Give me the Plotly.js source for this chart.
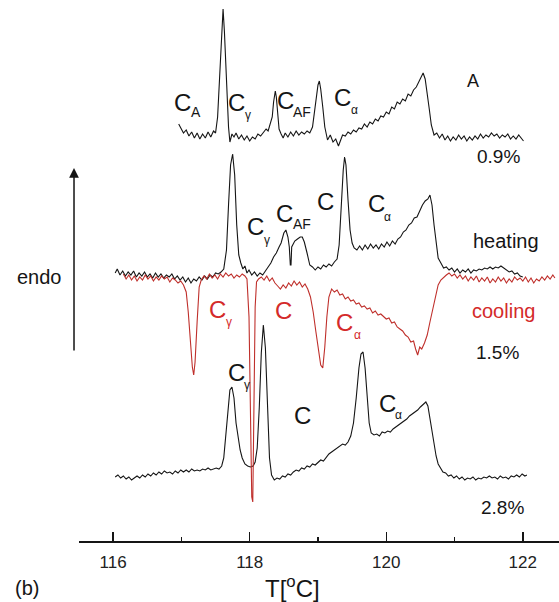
<!DOCTYPE html>
<html>
<head>
<meta charset="utf-8">
<script src="https://cdn.plot.ly/plotly-3.0.1.min.js"></script>
<style>html,body{margin:0;padding:0;background:#fff;}#chart{width:559px;height:602px;}</style>
</head>
<body>
<div id="chart"></div>
<script>
// DSC traces: [temperature in °C, heat flow relative to baseline (a.u.)]
const curve09 = [[116.96,13],[116.99,9],[117.03,4],[117.07,7],[117.11,1],[117.15,5],[117.19,-1],[117.23,4],[117.27,-2],[117.31,3],[117.35,-1],[117.39,5],[117.43,0],[117.47,6],[117.50,4],[117.53,20],[117.56,60],[117.59,110],[117.61,128],[117.63,105],[117.66,50],[117.69,10],[117.71,-5],[117.74,3],[117.77,0],[117.80,4],[117.84,-2],[117.88,2],[117.92,-3],[117.96,1],[118.00,-4],[118.04,0],[118.08,-2],[118.12,3],[118.16,1],[118.20,5],[118.24,8],[118.27,6],[118.30,12],[118.33,20],[118.35,35],[118.375,46],[118.39,40],[118.41,20],[118.43,8],[118.46,3],[118.49,-1],[118.52,4],[118.56,0],[118.60,5],[118.64,1],[118.68,6],[118.72,2],[118.76,5],[118.80,3],[118.84,6],[118.88,4],[118.92,10],[118.95,25],[118.98,45],[119.00,52],[119.02,56],[119.04,48],[119.07,30],[119.10,10],[119.14,-3],[119.18,2],[119.22,-5],[119.26,-2],[119.30,-9],[119.33,-3],[119.36,2],[119.40,1],[119.44,5],[119.48,3],[119.52,7],[119.56,5],[119.60,9],[119.64,8],[119.68,13],[119.72,10],[119.76,15],[119.80,13],[119.84,18],[119.88,16],[119.92,21],[119.96,20],[120.00,25],[120.04,23],[120.08,30],[120.12,28],[120.16,35],[120.20,33],[120.24,38],[120.28,36],[120.32,43],[120.36,41],[120.40,47],[120.44,50],[120.48,55],[120.51,60],[120.54,64],[120.57,58],[120.60,45],[120.63,28],[120.66,12],[120.70,2],[120.74,4],[120.78,-1],[120.82,3],[120.86,-3],[120.90,1],[120.94,-4],[120.98,0],[121.02,-3],[121.06,2],[121.10,-2],[121.14,1],[121.18,-4],[121.22,0],[121.26,-3],[121.30,1],[121.34,-2],[121.38,3],[121.42,-1],[121.46,2],[121.50,0],[121.54,4],[121.58,1],[121.62,3],[121.66,-1],[121.70,2],[121.74,0],[121.78,3],[121.82,-2],[121.86,1],[121.90,-2],[121.94,2],[121.98,-1],[122.01,-4]];

const curve15heat = [[116.03,2],[116.06,6],[116.10,0],[116.14,4],[116.18,-1],[116.22,3],[116.26,0],[116.30,4],[116.34,-2],[116.38,2],[116.42,-1],[116.46,3],[116.50,-2],[116.54,1],[116.58,-3],[116.62,2],[116.66,-2],[116.70,1],[116.74,-3],[116.78,0],[116.82,-2],[116.86,1],[116.90,-4],[116.94,-1],[116.98,-5],[117.02,-2],[117.06,-7],[117.10,-3],[117.14,-8],[117.18,-4],[117.22,-6],[117.26,-2],[117.30,-5],[117.34,-1],[117.38,-4],[117.42,0],[117.46,-2],[117.50,2],[117.54,1],[117.58,3],[117.62,6],[117.66,25],[117.69,70],[117.72,110],[117.75,121],[117.78,100],[117.81,50],[117.84,20],[117.87,12],[117.90,6],[117.93,9],[117.96,2],[117.99,5],[118.03,0],[118.07,3],[118.11,-1],[118.15,2],[118.19,0],[118.23,4],[118.27,8],[118.31,12],[118.35,18],[118.39,22],[118.43,28],[118.46,32],[118.50,42],[118.53,45],[118.56,38],[118.58,28],[118.595,10],[118.605,10],[118.615,28],[118.63,30],[118.66,34],[118.70,36],[118.74,38],[118.77,38],[118.80,33],[118.84,22],[118.88,10],[118.92,8],[118.96,5],[119.00,8],[119.04,6],[119.08,10],[119.12,8],[119.16,11],[119.20,9],[119.24,13],[119.28,16],[119.31,30],[119.34,70],[119.37,105],[119.39,118],[119.41,110],[119.44,75],[119.47,45],[119.50,32],[119.53,27],[119.57,25],[119.61,29],[119.65,25],[119.69,30],[119.73,26],[119.77,31],[119.81,27],[119.85,30],[119.89,26],[119.93,31],[119.97,28],[120.01,33],[120.05,29],[120.09,34],[120.13,31],[120.17,36],[120.21,38],[120.25,43],[120.29,45],[120.33,50],[120.37,52],[120.41,57],[120.45,58],[120.49,64],[120.53,70],[120.57,74],[120.61,76],[120.64,80],[120.67,70],[120.70,50],[120.73,30],[120.76,17],[120.80,12],[120.84,7],[120.88,8],[120.92,5],[120.96,7],[121.00,3],[121.04,6],[121.08,2],[121.12,5],[121.16,3],[121.20,6],[121.24,2],[121.28,5],[121.32,4],[121.36,6],[121.40,5],[121.44,7],[121.48,6],[121.52,8],[121.56,6],[121.60,8],[121.64,7],[121.68,9],[121.72,7],[121.76,5],[121.80,3],[121.84,4],[121.88,1],[121.92,2],[121.96,-1],[122.00,-2]];

const curve15cool = [[116.15,3],[116.19,-2],[116.23,2],[116.27,-3],[116.31,1],[116.35,-4],[116.39,0],[116.43,-3],[116.47,2],[116.51,-2],[116.55,1],[116.59,-4],[116.63,0],[116.67,-3],[116.71,1],[116.75,-2],[116.79,0],[116.83,-5],[116.87,-1],[116.91,-3],[116.95,-6],[116.99,-4],[117.03,-8],[117.07,-15],[117.10,-35],[117.13,-65],[117.16,-90],[117.18,-98],[117.20,-85],[117.23,-45],[117.26,-10],[117.29,-3],[117.33,1],[117.37,-2],[117.41,3],[117.45,-1],[117.49,2],[117.53,-2],[117.57,3],[117.61,0],[117.65,4],[117.69,1],[117.73,3],[117.77,-1],[117.81,2],[117.85,0],[117.89,3],[117.93,1],[117.96,-2],[117.99,-40],[118.01,-150],[118.03,-220],[118.045,-225],[118.06,-150],[118.08,-30],[118.10,-5],[118.13,-2],[118.17,0],[118.21,-3],[118.25,1],[118.29,-4],[118.33,-1],[118.37,-6],[118.41,-9],[118.45,-12],[118.49,-8],[118.53,-11],[118.57,-6],[118.61,-9],[118.65,-4],[118.69,-8],[118.73,-5],[118.77,-10],[118.81,-7],[118.85,-12],[118.89,-20],[118.93,-35],[118.97,-55],[119.01,-75],[119.04,-88],[119.07,-91],[119.10,-70],[119.13,-40],[119.16,-20],[119.20,-12],[119.24,-15],[119.28,-13],[119.32,-18],[119.36,-17],[119.40,-22],[119.44,-20],[119.48,-24],[119.52,-23],[119.56,-27],[119.60,-26],[119.64,-30],[119.68,-29],[119.72,-32],[119.76,-31],[119.80,-36],[119.84,-34],[119.88,-38],[119.92,-37],[119.96,-40],[120.00,-42],[120.04,-41],[120.08,-46],[120.12,-45],[120.16,-50],[120.20,-52],[120.24,-54],[120.28,-58],[120.32,-60],[120.36,-65],[120.40,-64],[120.43,-72],[120.46,-78],[120.49,-70],[120.52,-72],[120.56,-66],[120.60,-58],[120.64,-45],[120.68,-32],[120.72,-18],[120.76,-8],[120.80,-3],[120.84,0],[120.88,2],[120.92,4],[120.96,1],[121.00,3],[121.04,-1],[121.08,2],[121.12,-2],[121.16,1],[121.20,-4],[121.24,0],[121.28,-3],[121.32,1],[121.36,-5],[121.40,-1],[121.44,-4],[121.48,0],[121.52,-6],[121.56,-2],[121.60,-5],[121.64,0],[121.68,-4],[121.72,-1],[121.76,-6],[121.80,-2],[121.84,-5],[121.88,0],[121.92,-3],[121.96,-1],[122.00,-4],[122.04,0],[122.08,-5],[122.12,-1],[122.16,-6],[122.20,-2],[122.24,-4],[122.28,0],[122.32,-3],[122.36,1],[122.40,-2],[122.44,2],[122.47,-1]];

const curve28 = [[116.03,1],[116.07,3],[116.11,0],[116.15,2],[116.19,-1],[116.23,1],[116.27,-2],[116.31,0],[116.35,2],[116.39,0],[116.43,3],[116.47,1],[116.51,4],[116.55,2],[116.59,5],[116.63,3],[116.67,6],[116.71,4],[116.75,7],[116.79,5],[116.83,6],[116.87,4],[116.91,7],[116.95,5],[116.99,8],[117.03,6],[117.07,8],[117.11,6],[117.15,9],[117.19,7],[117.23,8],[117.27,7],[117.31,9],[117.35,8],[117.39,10],[117.43,8],[117.47,9],[117.51,10],[117.55,9],[117.59,12],[117.62,20],[117.65,45],[117.68,72],[117.71,88],[117.74,91],[117.77,80],[117.80,55],[117.83,40],[117.86,28],[117.89,20],[117.93,14],[117.97,12],[118.01,11],[118.05,12],[118.08,16],[118.11,30],[118.14,70],[118.17,125],[118.20,153],[118.23,130],[118.26,70],[118.29,20],[118.32,3],[118.36,-2],[118.40,0],[118.44,-1],[118.48,2],[118.52,1],[118.56,4],[118.60,3],[118.64,6],[118.68,8],[118.72,7],[118.76,10],[118.80,9],[118.84,12],[118.88,11],[118.92,14],[118.96,13],[119.00,16],[119.04,18],[119.08,17],[119.12,21],[119.16,24],[119.20,26],[119.24,28],[119.28,30],[119.32,32],[119.36,34],[119.40,33],[119.44,36],[119.48,42],[119.52,55],[119.56,80],[119.60,110],[119.63,124],[119.66,126],[119.69,110],[119.72,78],[119.75,55],[119.78,45],[119.82,43],[119.86,44],[119.90,42],[119.94,46],[119.98,45],[120.02,47],[120.06,46],[120.10,49],[120.14,51],[120.18,53],[120.22,55],[120.26,57],[120.30,59],[120.34,62],[120.38,64],[120.42,66],[120.46,68],[120.50,71],[120.54,74],[120.58,76],[120.61,72],[120.64,60],[120.67,45],[120.70,33],[120.73,22],[120.76,14],[120.79,10],[120.83,6],[120.87,5],[120.91,2],[120.95,3],[120.99,0],[121.03,2],[121.07,-1],[121.11,1],[121.15,-2],[121.19,0],[121.23,-1],[121.27,1],[121.31,-2],[121.35,0],[121.39,-1],[121.43,1],[121.47,0],[121.51,2],[121.55,0],[121.59,1],[121.63,-1],[121.67,2],[121.71,0],[121.75,1],[121.79,-1],[121.83,2],[121.87,1],[121.91,3],[121.95,1],[121.99,4],[122.03,2],[122.06,3]];

const xTicks = [116, 118, 120, 122];
const xTickLabels = ['116', '118', '120', '122'];

// vertical stacking offsets (a.u.)
const OFF09 = 404, OFFHEAT = 266, OFFCOOL = 264, OFF28 = 63;

const BLACK = '#151515', RED = '#bf2f2b', REDTXT = '#d42a2a';
const FONT = 'Liberation Sans, Arial, Helvetica, sans-serif';

function trace(data, off, color) {
  return {
    x: data.map(p => p[0]),
    y: data.map(p => p[1] + off),
    type: 'scatter', mode: 'lines',
    line: {color: color, width: 1.1},
    hoverinfo: 'skip', showlegend: false
  };
}

const traces = [
  trace(curve09, OFF09, BLACK),
  trace(curve15heat, OFFHEAT, BLACK),
  trace(curve28, OFF28, BLACK),
  trace(curve15cool, OFFCOOL, RED)
];

function txt(x, y, text, size, color) {
  return {x: x, y: y, xref: 'x', yref: 'y', text: text, showarrow: false,
          font: {family: FONT, size: size, color: color || BLACK},
          xanchor: 'center', yanchor: 'middle'};
}
function ptxt(x, y, text, size, color) {
  return {x: x, y: y, xref: 'paper', yref: 'paper', text: text, showarrow: false,
          font: {family: FONT, size: size, color: color || BLACK},
          xanchor: 'center', yanchor: 'middle'};
}

const CS = 24, SS = 14, GS = 12;
const annotations = [
  // 0.9 %
  txt(117.02, 438.5, 'C', CS), txt(117.22, 429.5, 'A', SS),
  txt(117.81, 438.5, 'C', CS), txt(117.98, 426, 'γ', GS),
  txt(118.52, 441, 'C', CS), txt(118.76, 429, 'AF', SS),
  txt(119.36, 443.5, 'C', CS), txt(119.53, 431, 'α', GS),
  txt(121.27, 460, 'A', 18),
  txt(121.65, 385, '0.9%', 19),
  // 1.5 % heating
  txt(118.09, 314.5, 'C', CS), txt(118.25, 301, 'γ', GS),
  txt(118.51, 327.5, 'C', CS), txt(118.76, 317, 'AF', SS),
  txt(119.11, 339.5, 'C', CS),
  txt(119.85, 337.5, 'C', CS), txt(120.02, 324, 'α', GS),
  txt(121.76, 300, 'heating', 20),
  // 1.5 % cooling
  txt(117.53, 231.5, 'C', CS, REDTXT), txt(117.69, 219, 'γ', GS, REDTXT),
  txt(118.50, 231, 'C', CS, REDTXT),
  txt(119.39, 218.5, 'C', CS, REDTXT), txt(119.58, 206, 'α', GS, REDTXT),
  txt(121.71, 230, 'cooling', 20, REDTXT),
  txt(121.63, 188.5, '1.5%', 19),
  // 2.8 %
  txt(117.80, 168.5, 'C', CS), txt(117.96, 156, 'γ', GS),
  txt(118.78, 126, 'C', CS),
  txt(120.02, 137.5, 'C', CS), txt(120.18, 126, 'α', GS),
  txt(121.70, 34, '2.8%', 19),
  // endo arrow and labels
  {x: -0.0104, y: 0.6895, xref: 'paper', yref: 'paper', ax: 0, ay: 184,
   axref: 'pixel', ayref: 'pixel', text: '', showarrow: true,
   arrowhead: 2, arrowsize: 1.3, arrowwidth: 1.5, arrowcolor: BLACK},
  ptxt(-0.0833, 0.488, 'endo', 20),
  ptxt(-0.108, -0.0869, '(b)', 20),
  ptxt((292 - 79) / 480, -0.0850, 'T[<sup>o</sup>C]', 24)
];

const layout = {
  width: 559, height: 602,
  margin: {l: 79, r: 0, t: 0, b: 61, pad: 0},
  paper_bgcolor: '#ffffff', plot_bgcolor: '#ffffff',
  showlegend: false,
  xaxis: {
    range: [115.5, 122.53], tickvals: xTicks, ticktext: xTickLabels,
    ticks: 'inside', ticklen: 9, tickwidth: 1.5, tickcolor: BLACK,
    showline: true, linecolor: BLACK, linewidth: 1.5,
    showgrid: false, zeroline: false, ticklabelstandoff: 5,
    tickfont: {family: FONT, size: 17, color: '#222'},
    minor: {ticks: 'inside', ticklen: 4, tickwidth: 1.5, tickcolor: BLACK, tickvals: [117, 119, 121], showgrid: false}
  },
  yaxis: {range: [0, 541], visible: false, showgrid: false, zeroline: false},
  annotations: annotations
};

Plotly.newPlot('chart', traces, layout, {staticPlot: true, displayModeBar: false});
</script>
</body>
</html>
